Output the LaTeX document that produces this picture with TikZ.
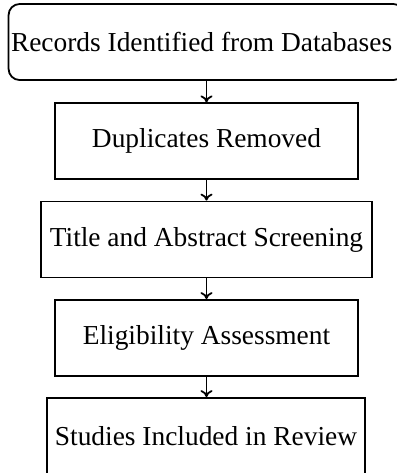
\documentclass[tikz,border=0pt]{standalone}
\usepackage{fontspec}
\setmainfont{Liberation Serif}
\usetikzlibrary{arrows.meta}
\begin{document}
\begin{tikzpicture}[x=0.5pt,y=-0.5pt,
  stage/.style={draw, line width=0.9pt, minimum height=38pt, inner sep=1pt,
    font=\fontsize{13.7}{16}\selectfont},
  flow/.style={line width=0.9pt, -{To[length=3.5pt,width=6pt]}}]
\useasboundingbox (0,0) rectangle (397,473);
\node[stage, rounded corners=5.5pt, text width=195.5pt, align=flush left, inner xsep=1.2pt] (b1) at (206.5,42) {Records Identified from Databases};
\node[stage, minimum width=151.5pt] (b2) at (206.5,141.3) {Duplicates Removed};
\node[stage, minimum width=165.5pt] (b3) at (206.5,239.5) {Title and Abstract Screening};
\node[stage, minimum width=151.5pt] (b4) at (206.5,338) {Eligibility Assessment};
\node[stage, minimum width=159pt] (b5) at (206,436) {Studies Included in Review};
\draw[flow] (b1) -- (b2);
\draw[flow] (b2) -- (b3);
\draw[flow] (b3) -- (b4);
\draw[flow] (b4.south) -- (b5.north -| b4.south);
\end{tikzpicture}
\end{document}
